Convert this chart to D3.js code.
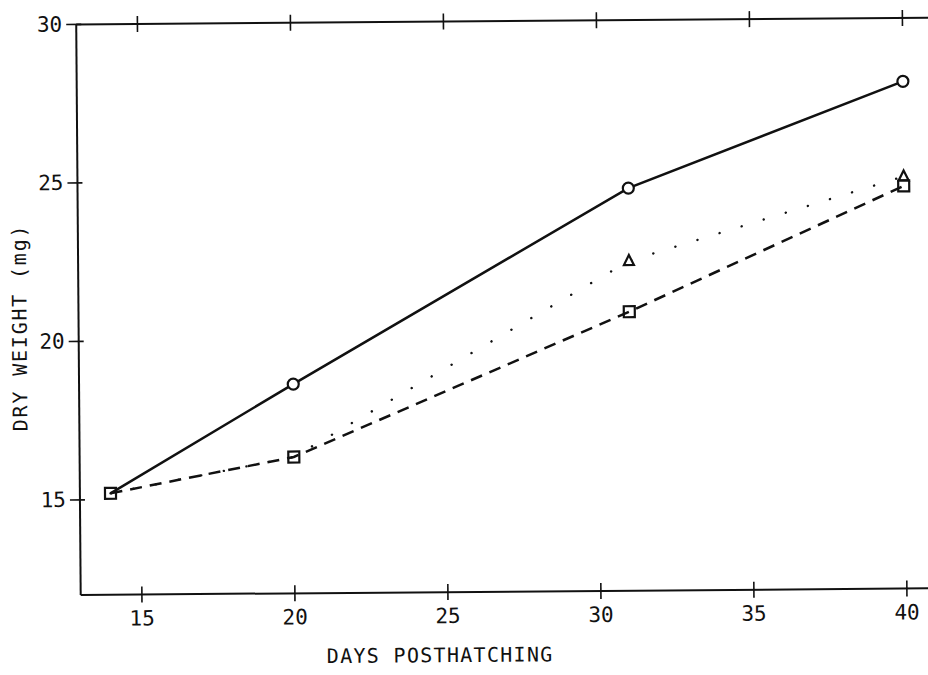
<!DOCTYPE html>
<html>
<head>
<meta charset="utf-8">
<script src="https://cdn.jsdelivr.net/npm/d3@7"></script>
<style>
  body { margin: 0; background: #fff; }
  svg { display: block; }
  text { font-family: "DejaVu Sans Mono", monospace; fill: #111; }
</style>
</head>
<body>
<div id="chart"></div>
<script>
// Data
const days = [14, 20, 31, 40];
const circleSeries = [15.2, 18.6, 24.7, 28.0];    // solid line, open circles
const squareSeries = [15.2, 16.3, 20.8, 24.7];    // dashed line, open squares
const triangleSeries = [15.2, 16.3, 22.4, 25.0];  // dotted line, open triangles
const xTicks = [15, 20, 25, 30, 35, 40];
const yTicks = [15, 20, 25, 30];

const W = 928, H = 675;
// origin of the plot frame (bottom-left corner)
const ox = 80.7, oy = 595;
const plotW = 28 * 30.6, plotH = 18 * 31.7;

const svg = d3.select("#chart")
              .append("svg")
              .attr("width", W)
              .attr("height", H);

// the scanned figure is slightly rotated
const g = svg.append("g")
             .attr("transform", `translate(${ox},${oy}) rotate(-0.45) translate(0,${-plotH})`);

const x = d3.scaleLinear().domain([13, 41]).range([0, plotW]);
const y = d3.scaleLinear().domain([12, 30]).range([plotH, 0]);

// frame lines
g.append("line").attr("x1", 0).attr("x2", plotW).attr("y1", plotH).attr("y2", plotH)
 .attr("stroke", "#111").attr("stroke-width", 2);
g.append("line").attr("x1", 0).attr("x2", plotW).attr("y1", 0).attr("y2", 0)
 .attr("stroke", "#111").attr("stroke-width", 2);
g.append("line").attr("x1", 0).attr("x2", 0).attr("y1", 0).attr("y2", plotH)
 .attr("stroke", "#111").attr("stroke-width", 2);

// bottom + top ticks, labels
xTicks.forEach(t => {
    g.append("line")
     .attr("x1", x(t)).attr("x2", x(t))
     .attr("y1", plotH - 8).attr("y2", plotH + 8)
     .attr("stroke", "#111").attr("stroke-width", 1.6);
    g.append("line")
     .attr("x1", x(t)).attr("x2", x(t))
     .attr("y1", -8).attr("y2", 8)
     .attr("stroke", "#111").attr("stroke-width", 1.6);
    g.append("text")
     .attr("x", x(t))
     .attr("y", plotH + 31)
     .attr("text-anchor", "middle")
     .style("font-size", "21px")
     .text(t);
});

// left ticks + labels
yTicks.forEach(t => {
    g.append("line")
     .attr("x1", -10).attr("x2", 5)
     .attr("y1", y(t)).attr("y2", y(t))
     .attr("stroke", "#111").attr("stroke-width", 1.6);
    g.append("text")
     .attr("x", -14)
     .attr("y", y(t) + 7)
     .attr("text-anchor", "end")
     .style("font-size", "21px")
     .text(t);
});

// axis titles
g.append("text")
 .attr("x", 359)
 .attr("y", plotH + 70)
 .attr("text-anchor", "middle")
 .style("font-size", "20px")
 .style("letter-spacing", "1.3px")
 .text("DAYS POSTHATCHING");

g.append("text")
 .attr("transform", `translate(-52,${plotH - 268}) rotate(-90)`)
 .attr("text-anchor", "middle")
 .style("font-size", "20px")
 .style("letter-spacing", "1.8px")
 .text("DRY WEIGHT (mg)");

// lines
const line = d3.line()
               .x(d => x(d[0]))
               .y(d => y(d[1]));

const pts = vals => days.map((d, i) => [d, vals[i]]);

g.append("path")
 .datum(pts(triangleSeries))
 .attr("fill", "none")
 .attr("stroke", "#111")
 .attr("stroke-width", 2.4)
 .attr("stroke-linecap", "round")
 .attr("stroke-dasharray", "0.1 23")
 .attr("d", line);

g.append("path")
 .datum(pts(squareSeries))
 .attr("fill", "none")
 .attr("stroke", "#111")
 .attr("stroke-width", 2.5)
 .attr("stroke-dasharray", "12 8")
 .attr("d", line);

g.append("path")
 .datum(pts(circleSeries))
 .attr("fill", "none")
 .attr("stroke", "#111")
 .attr("stroke-width", 2.5)
 .attr("d", line);

// markers (points that coincide with a square are drawn only once, as squares)
const isShared = (vals, i) => vals[i] === squareSeries[i];

pts(circleSeries).forEach((p, i) => {
    if (isShared(circleSeries, i)) return;
    g.append("circle")
     .attr("cx", x(p[0])).attr("cy", y(p[1]))
     .attr("r", 5.5)
     .attr("fill", "#fff")
     .attr("stroke", "#111")
     .attr("stroke-width", 2.2);
});

pts(triangleSeries).forEach((p, i) => {
    if (isShared(triangleSeries, i)) return;
    const cx = x(p[0]), cy = y(p[1]);
    g.append("path")
     .attr("d", `M${cx},${cy - 6}L${cx + 5},${cy + 4}L${cx - 5},${cy + 4}Z`)
     .attr("fill", "#fff")
     .attr("stroke", "#111")
     .attr("stroke-width", 2.2);
});

pts(squareSeries).forEach(p => {
    g.append("rect")
     .attr("x", x(p[0]) - 5.5).attr("y", y(p[1]) - 5.5)
     .attr("width", 11).attr("height", 11)
     .attr("fill", "none")
     .attr("stroke", "#111")
     .attr("stroke-width", 2.2);
});
</script>
</body>
</html>
